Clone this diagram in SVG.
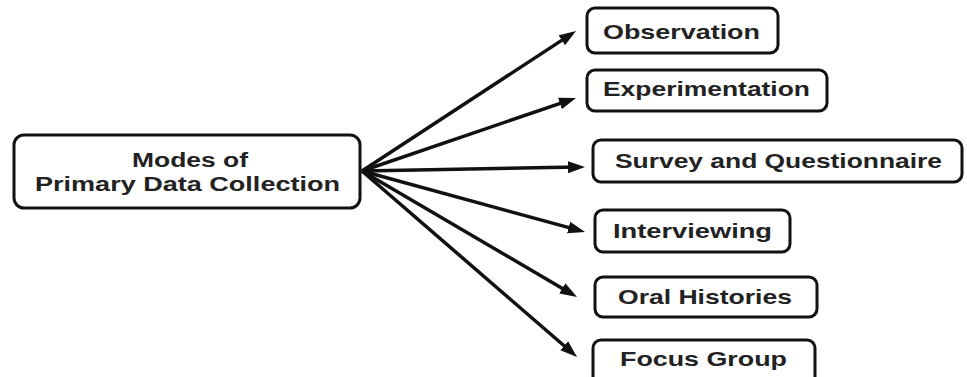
<svg xmlns="http://www.w3.org/2000/svg" width="967" height="377" viewBox="0 0 967 377">
<style>
.box{fill:#fff;stroke:#111;stroke-width:3}
.t{font-family:"Liberation Sans",Arial,sans-serif;font-weight:bold;font-size:21px;fill:#222}
.m{font-size:20px}
.c{stroke:#111;stroke-width:3.5;fill:none;marker-end:url(#ah)}
</style>
<defs>
<marker id="ah" markerUnits="userSpaceOnUse" markerWidth="17" markerHeight="13" refX="9" refY="6.5" orient="auto">
<path d="M0,0.5 L17,6.5 L0,12.5 z" fill="#111"/>
</marker>
</defs>
<rect width="967" height="377" fill="#fff"/>
<g id="connectors">
<line class="c" x1="362" y1="171" x2="569.3" y2="35.4"/>
<line class="c" x1="362" y1="171" x2="568.4" y2="100.6"/>
<line class="c" x1="362" y1="171" x2="577" y2="167.1"/>
<line class="c" x1="362" y1="171" x2="577.3" y2="229.9"/>
<line class="c" x1="362" y1="171" x2="570.1" y2="292.9"/>
<line class="c" x1="362" y1="171" x2="571" y2="351.7"/>
</g>
<g id="main">
<rect class="box" x="14" y="135" width="346" height="73" rx="10"/>
<text class="t m" x="132" y="167" textLength="116" lengthAdjust="spacingAndGlyphs">Modes of</text>
<text class="t m" x="35" y="191" textLength="305" lengthAdjust="spacingAndGlyphs">Primary Data Collection</text>
</g>
<g id="observation">
<rect class="box" x="587" y="8" width="191" height="45" rx="8"/>
<text class="t" x="603" y="39" textLength="157" lengthAdjust="spacingAndGlyphs">Observation</text>
</g>
<g id="experimentation">
<rect class="box" x="587" y="70" width="240" height="41" rx="8"/>
<text class="t" x="603" y="96" textLength="207" lengthAdjust="spacingAndGlyphs">Experimentation</text>
</g>
<g id="survey">
<rect class="box" x="593" y="140" width="369" height="42" rx="8"/>
<text class="t" x="615" y="168" textLength="327" lengthAdjust="spacingAndGlyphs">Survey and Questionnaire</text>
</g>
<g id="interviewing">
<rect class="box" x="595" y="210" width="195" height="42" rx="8"/>
<text class="t" x="613" y="238" textLength="159" lengthAdjust="spacingAndGlyphs">Interviewing</text>
</g>
<g id="oral-histories">
<rect class="box" x="595" y="277" width="222" height="40" rx="8"/>
<text class="t" x="618" y="304" textLength="174" lengthAdjust="spacingAndGlyphs">Oral Histories</text>
</g>
<g id="focus-group">
<rect class="box" x="593" y="340" width="222" height="45" rx="8"/>
<text class="t" x="620" y="366" textLength="167" lengthAdjust="spacingAndGlyphs">Focus Group</text>
</g>
</svg>
